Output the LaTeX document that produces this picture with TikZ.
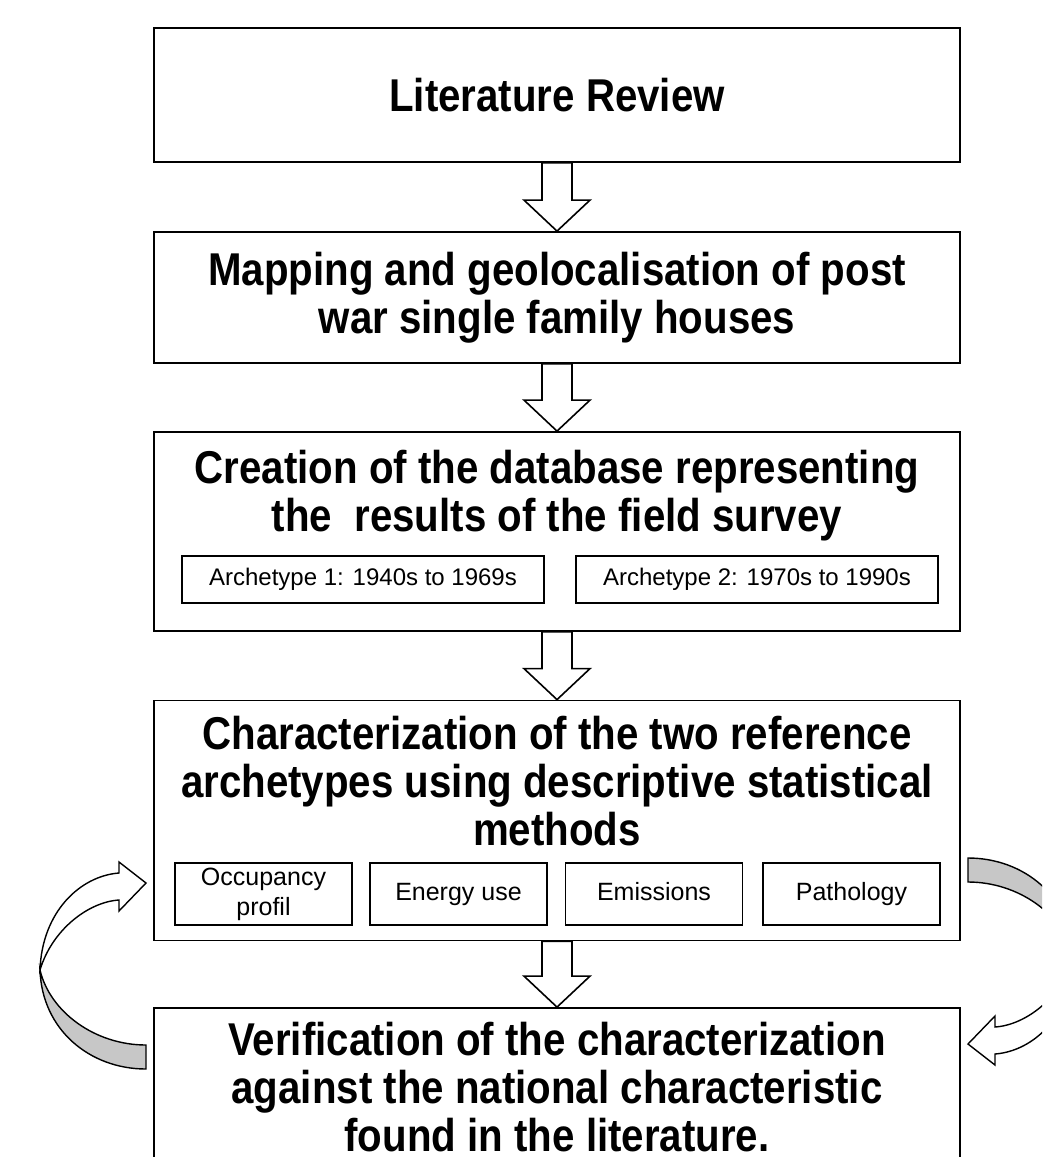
\documentclass[tikz,border=0pt]{standalone}
\usepackage{fontspec}
\setmainfont{Liberation Sans}
\newfontfamily\narrowfont{Liberation Sans}[FakeStretch=0.875]
\usetikzlibrary{calc}
\definecolor{ribbongray}{gray}{0.78}

% hollow block arrow between two boxes
\newcommand{\flowarrow}[2]{%
  \draw[flow] ($(#1.south)+(-15,0)$) -- ($(#2.north)+(-15,-31)$)
    -- ($(#2.north)+(-33,-31)$) -- (#2.north) -- ($(#2.north)+(33,-31)$)
    -- ($(#2.north)+(15,-31)$) -- ($(#1.south)+(15,0)$) -- cycle;}

% twisted feedback ribbon (left side)
\newcommand{\ribbon}{%
  \draw[ribbonback] (146,1045) .. controls (95,1045) and (50,1012) .. (40,970)
    .. controls (42,1030) and (90,1069) .. (146,1069) -- cycle;
  \draw[ribbonfront] (40,970) .. controls (42,912) and (80,876) .. (119,873)
    -- (119,862) -- (146,883) -- (119,911) -- (119,900)
    .. controls (88,902) and (52,930) .. (40,970) -- cycle;}

\begin{document}
\begin{tikzpicture}[%
  x=1pt, y=-1pt,
  block/.style={rectangle, draw, line width=1.8pt, minimum width=806, fill=white},
  title/.style={align=center, inner sep=0pt,
    font=\narrowfont\bfseries\fontsize{46}{48}\selectfont},
  item/.style={rectangle, draw, line width=1.6pt, align=center, inner sep=0pt,
    font=\fontsize{24}{30}\selectfont},
  cell/.style={item, minimum width=177, minimum height=62,
    font=\fontsize{25}{30}\selectfont},
  flow/.style={line width=1.6pt, fill=white, line join=miter},
  ribbonback/.style={line width=1.4pt, fill=ribbongray},
  ribbonfront/.style={line width=1.4pt, fill=white, line join=miter},
  ]
  \useasboundingbox (0,0) rectangle (1042,1157);
  \clip (0,0) rectangle (1042,1157);

  \node[block, minimum height=134, title] (lit) at (557,95) {Literature Review};
  \node[block, minimum height=131, title] (map) at (557,297.5)
    {Mapping and geolocalisation of post\\war single family houses};
  \node[block, minimum height=199] (crea) at (557,531.5) {};
  \node[block, minimum height=240] (char) at (557,820.5) {};
  \node[block, minimum height=200] (verif) at (557,1108) {};

  \node[title] (creatext) at (557,496)
    {Creation of the database representing\\the\ \ results of the field survey};
  \node[title] (chartext) at (557,781)
    {Characterization of the two reference\\archetypes using descriptive statistical\\methods};
  \node[title] (veriftext) at (557,1087)
    {Verification of the characterization\\against the national characteristic\\found in the literature.};

  \node[item, minimum width=362, minimum height=47] (arch1) at (363,579.5)
    {Archetype 1: 1940s to 1969s};
  \node[item, minimum width=362, minimum height=47] (arch2) at (757,579.5)
    {Archetype 2: 1970s to 1990s};

  \node[cell] (occ) at (263.5,894) {Occupancy\\profil};
  \node[cell] (energy) at (458.5,894) {Energy use\strut};
  \node[cell] (emis) at (654,894) {Emissions\strut};
  \node[cell] (patho) at (851.5,894) {Pathology\strut};

  \flowarrow{lit}{map}
  \flowarrow{map}{crea}
  \flowarrow{crea}{char}
  \flowarrow{char}{verif}

  \ribbon
  \begin{scope}[rotate around={180:(557,963.5)}]
    \ribbon
  \end{scope}
\end{tikzpicture}
\end{document}
